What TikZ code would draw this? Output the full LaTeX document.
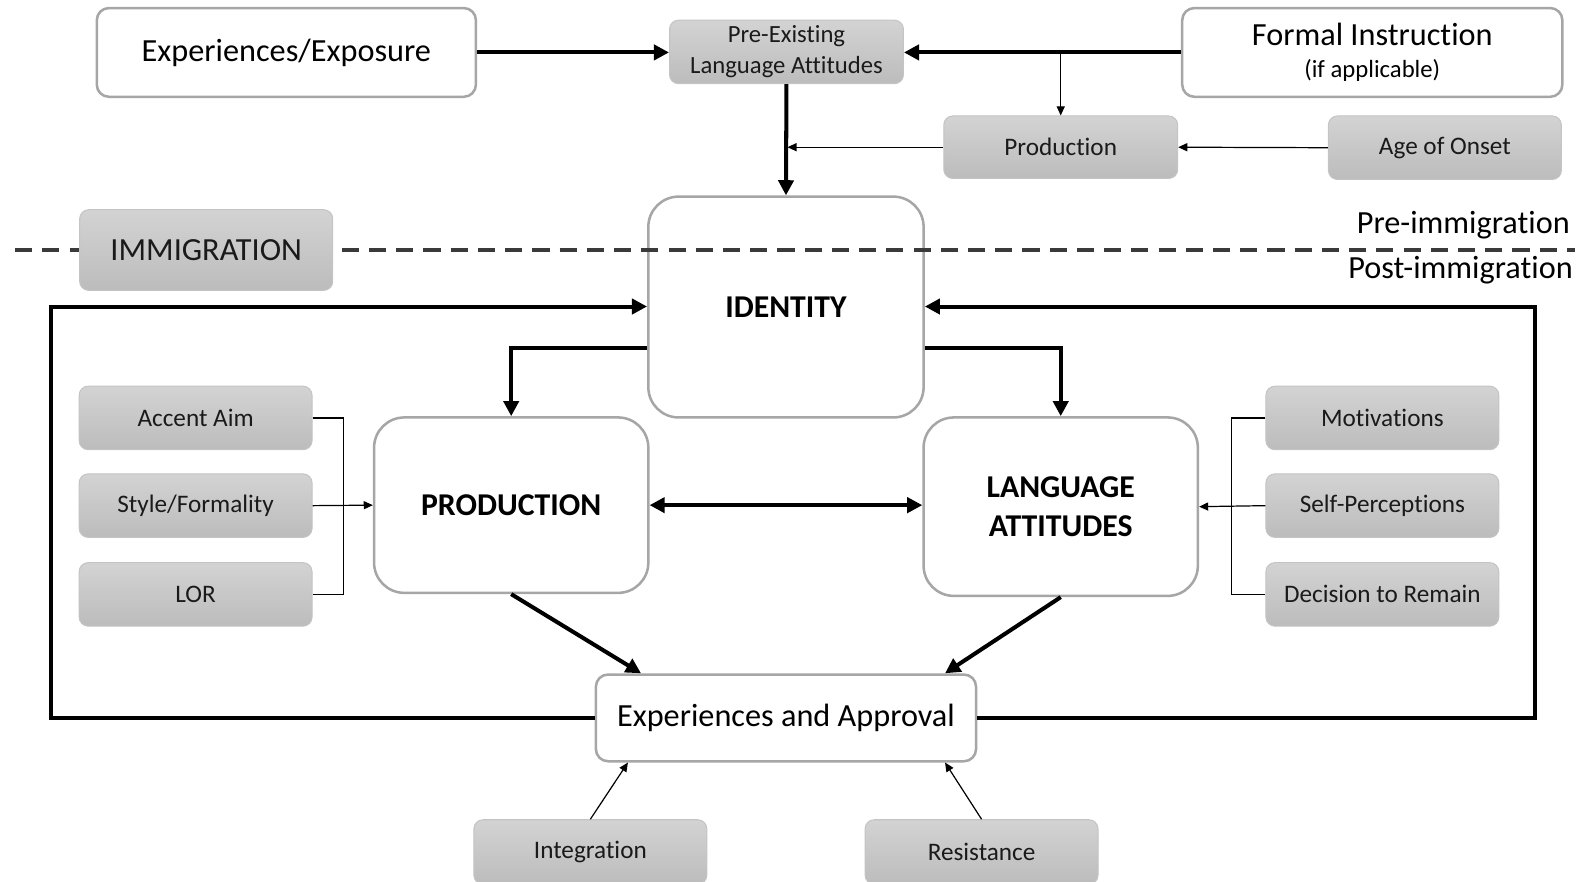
\documentclass[tikz,border=0pt]{standalone}
\usepackage{fontspec}
\setmainfont{Carlito}[Ligatures=NoCommon]
\usetikzlibrary{arrows.meta,calc}
\definecolor{wborder}{HTML}{A6A6A6}
\definecolor{gborder}{HTML}{C4C4C4}
\definecolor{gtop}{HTML}{D3D3D3}
\definecolor{gbot}{HTML}{BCBCBC}
\definecolor{dashc}{HTML}{3A3A3A}
\definecolor{txt}{HTML}{1A1A1A}
\tikzset{
  wbox/.style={draw=wborder, line width=2.5pt, fill=white, rounded corners=12pt, inner sep=0pt, align=center, text=black, font=\fontsize{32}{37}\selectfont},
  bigbox/.style={wbox, rounded corners=30pt, font=\fontsize{31.5}{39}\selectfont\bfseries},
  gbox/.style={draw=gborder, line width=1pt, top color=gtop, bottom color=gbot, rounded corners=9pt, inner sep=0pt, align=center, text=txt, font=\fontsize{25}{31}\selectfont, minimum width=231pt, minimum height=63pt},
  tk/.style={line width=4pt, -{Triangle[length=15pt,width=15pt]}},
  tkb/.style={line width=4pt, {Triangle[length=15pt,width=15pt]}-{Triangle[length=15pt,width=15pt]}},
  tn/.style={line width=1.2pt, -{Triangle[length=9pt,width=8pt]}},
  tnl/.style={line width=1.2pt},
}
\begin{document}
\begin{tikzpicture}[x=1pt,y=-1pt]
\useasboundingbox (0,0) rectangle (1568,874);
% top row
\node[wbox, minimum width=376pt, minimum height=88pt] (ee) at (284,52) {Experiences/Exposure};
\node[gbox, minimum width=232pt, minimum height=63pt, font=\fontsize{24.5}{31}\selectfont] (pe) at (780,51.5) {Pre-Existing\\Language Attitudes};
\node[wbox, minimum width=377pt, minimum height=88pt] (fi) at (1361,52) {Formal Instruction\\[-5pt]{\fontsize{24.5}{28}\selectfont (if applicable)}};
\node[gbox, minimum width=232pt, minimum height=62pt] (pr) at (1052,146) {Production};
\node[gbox, minimum width=231pt, minimum height=63pt] (ao) at (1433,146.5) {Age of Onset};
% central
\node[bigbox, minimum width=273pt, minimum height=219pt, fill=white] (id) at (779.5,304.5) {IDENTITY};
% dashed divider (drawn over the identity box)
\coordinate (dl) at (15,248);
\coordinate (dr) at (1562,248);
\draw[dashc, line width=3.8pt, dash pattern=on 17pt off 10pt] (dl) -- (dr);
% immigration
\node[gbox, minimum width=251pt, minimum height=80pt, font=\fontsize{32}{37}\selectfont] (im) at (204.5,248) {IMMIGRATION};
\node[anchor=east, inner sep=0pt, font=\fontsize{32}{37}\selectfont] (prel) at (1557,223) {Pre-immigration};
\node[anchor=east, inner sep=0pt, font=\fontsize{32}{37}\selectfont] (postl) at (1560,268) {Post-immigration};
\node[bigbox, minimum width=272pt, minimum height=174pt] (prod) at (507,501) {PRODUCTION};
\node[bigbox, minimum width=272pt, minimum height=177pt] (la) at (1052,502.5) {LANGUAGE\\ATTITUDES};
\node[wbox, minimum width=377pt, minimum height=86pt] (ea) at (779.5,712) {Experiences and Approval};
% side boxes
\node[gbox] (aa) at (194,414.5) {Accent Aim};
\node[gbox] (sf) at (194,501.5) {Style/Formality};
\node[gbox] (lor) at (194,589.5) {LOR};
\node[gbox] (mo) at (1371,414.5) {Motivations};
\node[gbox] (sp) at (1371,501.5) {Self-Perceptions};
\node[gbox] (dm) at (1371,589.5) {Decision to Remain};
\node[gbox, minimum height=64pt] (in) at (585.5,845) {Integration};
\node[gbox, minimum height=64pt] (re) at (973.5,845) {Resistance};
% top connectors
\draw[tk] (ee.east) -- (ee.east -| pe.west);
\draw[tk] (fi.west) -- (fi.west -| pe.east);
\coordinate (j1) at (1052,52);
\draw[tn] (j1) -- (pr.north);
\draw[tk] (pe.south) -- (id.north);
\coordinate (j2) at (781,146);
\draw[tn] (pr.west) -- (j2);
\draw[tn] (ao.west) -- (pr.east);
% loop
\coordinate (lb) at (51,712);
\coordinate (lt) at (51,304);
\coordinate (rb) at (1522,712);
\coordinate (rt) at (1522,304);
\draw[tk] (ea.west) -- (lb) -- (lt) -- (lt -| id.west);
\draw[tk] (ea.east) -- (rb) -- (rt) -- (rt -| id.east);
% identity to prod / la
\draw[tk] ($(id.west)+(0,40.5)$) -| (prod.north);
\draw[tk] ($(id.east)+(0,40.5)$) -| (la.north);
\draw[tkb] (prod.east) -- (prod.east -| la.west);
\draw[tk] (prod.south) -- ($(ea.north west)+(46,0)$);
\draw[tk] (la.south) -- ($(ea.north east)+(-32,0)$);
% brackets
\draw[tnl] (aa.east) -- ++(31,0) |- (lor.east);
\draw[tn] (sf.east) -- (prod.west);
\draw[tnl] (mo.west) -- ++(-34,0) |- (dm.west);
\draw[tn] (sp.west) -- (la.east);
% bottom
\draw[tn] (in.north) -- ($(ea.south west)+(33,0)$);
\draw[tn] (re.north) -- ($(ea.south east)+(-32,0)$);
\end{tikzpicture}
\end{document}
